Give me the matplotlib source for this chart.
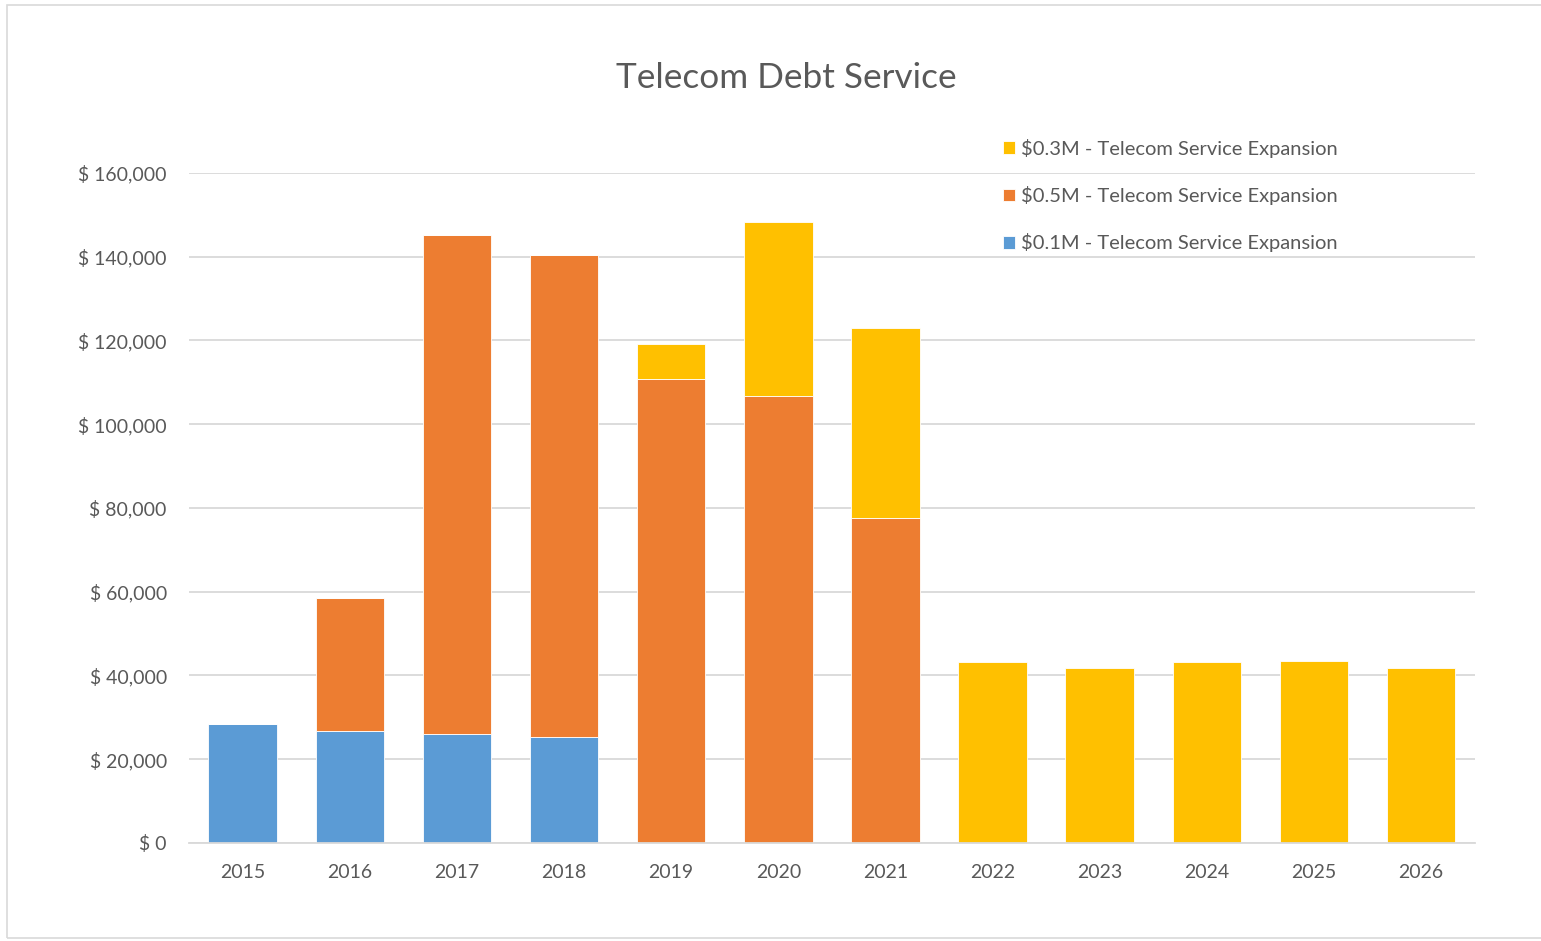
import matplotlib.pyplot as plt
from matplotlib.patches import Rectangle
from matplotlib.ticker import FuncFormatter

years = ['2015', '2016', '2017', '2018', '2019', '2020', '2021',
         '2022', '2023', '2024', '2025', '2026']
loan_01m = [28300, 26800, 25900, 25200, 0, 0, 0, 0, 0, 0, 0, 0]
loan_05m = [0, 31600, 119300, 115200, 110900, 106800, 77700, 0, 0, 0, 0, 0]
loan_03m = [0, 0, 0, 0, 8200, 41500, 45200, 43300, 41700, 43100, 43500, 41700]

labels = ['$0.1M - Telecom Service Expansion',
          '$0.5M - Telecom Service Expansion',
          '$0.3M - Telecom Service Expansion']
colors = ['#5B9BD5', '#ED7D31', '#FFC000']
text_color = '#595959'

plt.rcParams['font.family'] = ['Lato', 'DejaVu Sans']

fig = plt.figure(figsize=(15.41, 9.41), dpi=100)
ax = fig.add_axes([0.1227, 0.1042, 0.957 - 0.1227, 0.8162 - 0.1042])

x = list(range(len(years)))
bottom2 = loan_01m
bottom3 = [a + b for a, b in zip(loan_01m, loan_05m)]
b1 = ax.bar(x, loan_01m, width=0.64, color=colors[0], edgecolor='white', linewidth=0.6, label=labels[0])
b2 = ax.bar(x, loan_05m, width=0.64, bottom=bottom2, color=colors[1], edgecolor='white', linewidth=0.6, label=labels[1])
b3 = ax.bar(x, loan_03m, width=0.64, bottom=bottom3, color=colors[2], edgecolor='white', linewidth=0.6, label=labels[2])

ax.set_xlim(-0.5, len(years) - 0.5)
ax.set_ylim(0, 160000)
ax.set_yticks(range(0, 160001, 20000))
ax.yaxis.set_major_formatter(FuncFormatter(lambda v, p: '$ {:,.0f}'.format(v)))
ax.set_xticks(x)
ax.set_xticklabels(years)
ax.tick_params(axis='both', length=0, labelsize=14, colors=text_color)
ax.tick_params(axis='x', pad=15)
ax.tick_params(axis='y', pad=16)

ax.grid(axis='y', color='#D9D9D9', linewidth=1.3)
ax.set_axisbelow(True)
for s in ['top', 'right', 'left']:
    ax.spines[s].set_visible(False)
ax.spines['bottom'].set_color('#D9D9D9')
ax.spines['bottom'].set_linewidth(1.3)

fig.text(0.51, 0.917, 'Telecom Debt Service', ha='center', va='center',
         fontsize=25.3, color=text_color)

leg = ax.legend(handles=[b3, b2, b1], loc='upper left', bbox_to_anchor=(0.619, 1.078),
                frameon=False, fontsize=14.5, labelspacing=1.4, handlelength=0.6,
                handleheight=0.6, handletextpad=0.3, labelcolor=text_color)

fig.patches.append(Rectangle((7 / 1541, 3 / 941), 1, 1 - 8 / 941, transform=fig.transFigure,
                             fill=False, edgecolor='#D9D9D9', linewidth=1.2))

fig.savefig('out.png', dpi=100)
